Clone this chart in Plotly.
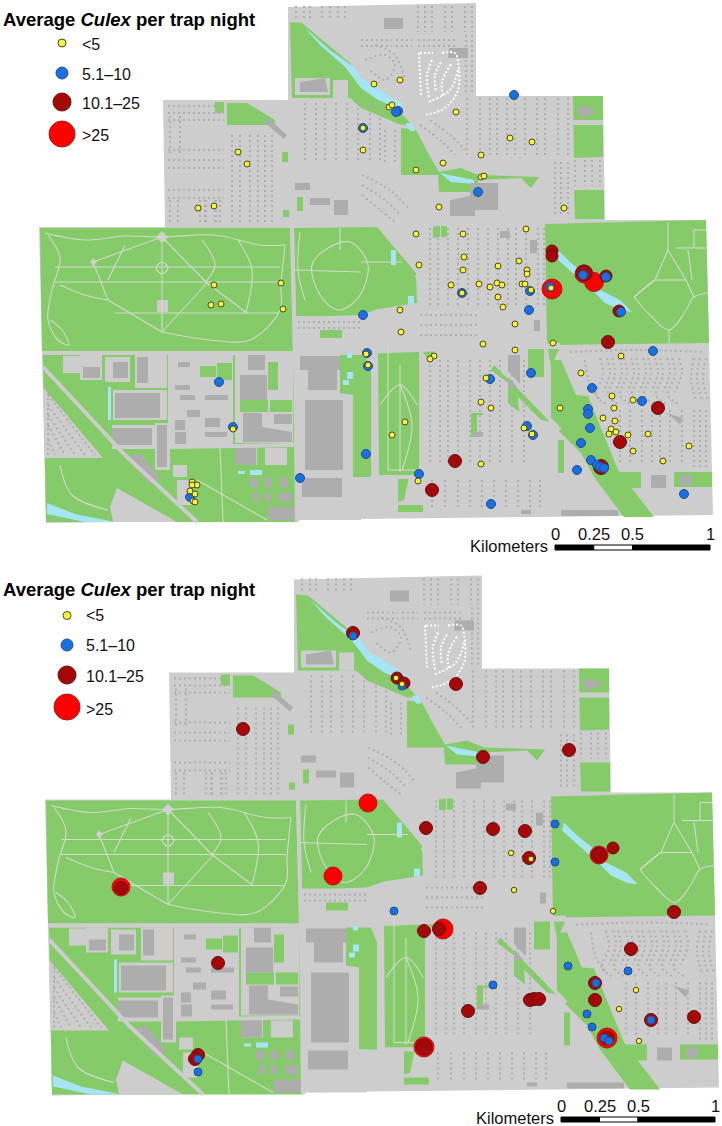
import plotly.graph_objects as go
from plotly.subplots import make_subplots

W, H = 722, 1126
SPLIT = 552
PANEL2_DX, PANEL2_DY = 6, 572.5

# ---------- legend ----------
legend_labels = ["<5", "5.1–10", "10.1–25", ">25"]
legend_sizes = [8, 12, 18, 26]
classes_color = ["#f6f23c", "#1b6fe0", "#a50808", "#fe0000"]
classes_edge = ["#4a4a18", "#1d4f8c", "#651010", "#b01818"]

# ---------- survey points, first map (class -> x, y) ----------
top_y_x = [238,247,198,214,374,400,389,392,456,510,532,481,443,416,481,484,439,564,526,416,463,419,464,519,498,463,527,527,363,363,
           214,281,211,221,283,233,192,197,192,190,195,193,195,
           451,479,490,497,502,522,525,462,531,551,498,503,400,515,401,483,553,515,621,434,430,366,368,581,486,612,633,481,491,560,614,603,615,405,524,611,609,616,532,628,648,392,689,633,663,481,418]
top_y_y = [152,164,208,206,84,80,107,105,112,138,142,155,163,170,177,176,207,208,229,234,234,265,257,261,266,270,270,274,128,150,
           285,283,305,304,309,429,482,485,485,491,494,501,502,
           285,284,287,283,285,284,284,293,290,288,297,307,310,324,332,344,343,350,356,356,359,354,365,373,378,396,400,402,408,408,408,418,421,422,428,429,434,432,434,435,434,435,446,451,461,464,481]
top_b_x = [398,396,478,514,363,219,233,300,190,363,462,530,529,653,367,368,531,490,592,642,588,588,527,590,533,581,366,591,597,600,604,577,419,684,491,621,550,583,606]
top_b_y = [111,112,192,95,128,382,427,478,497,315,293,291,310,351,353,366,373,379,388,401,409,414,426,428,435,443,454,460,465,467,468,470,474,494,504,312,287,275,277]
top_d_x = [552,552,584,606,619,608,658,620,455,432,601]
top_d_y = [251,256,273,276,311,342,408,442,461,490,467]
top_d_s = [12,12,16,12,12,13,13,13,13,13,15]
top_r_x = [594,552,584]
top_r_y = [282,289,274]
top_r_s = [19,20,18]

# ---------- survey points, second map ----------
bot_y_x = [396,402,511,531,514,553,636,619,639]
bot_y_y = [678,684,853,859,890,911,990,1009,1041]
bot_b_x = [353,402,555,198,198,555,394,568,628,493,596,587,592,651,604,609]
bot_b_y = [636,686,824,1059,1072,862,911,966,971,985,983,1014,1027,1020,1038,1041]
bot_d_x = [243,353,397,404,456,483,569,426,493,525,613,121,218,198,195,529,599,480,674,424,439,631,595,595,530,534,539,468,651,694,424,607]
bot_d_y = [729,633,678,683,684,757,750,828,829,831,848,888,963,1055,1059,858,855,888,912,931,929,949,983,1000,1000,999,999,1011,1020,1017,1047,1038]
bot_d_s = [13,13,12,12,13,13,13,13,13,13,12,13,13,13,13,13,15,13,13,13,13,13,13,13,13,13,13,13,13,13,16,14]
bot_r_x = [368,333,121,443,607,424,599]
bot_r_y = [803,876,887,929,1038,1047,855]
bot_r_s = [18,18,18,20,20,20,18]

# ---------- scale bars ----------
scale_km = [0, 0.25, 0.5, 1]
scale_labels = ["0", "0.25", "0.5", "1"]

# ---------- base map (first-map coordinates) ----------
base = [[(288,7),(476,3),(476,96),(603,96),(605,220),(706,220),(708,300),(712,477),(713,515),(361,519),(46,523),(39,227),(165,227),(163,100),(288,100)]]
green = [
 [(290,22),(302,23),(350,63),(361,88),(401,113),(411,124),(401,125),(361,108),(350,98),(292,98)],
 [(401,128),(416,130),(428,153),(439,172),(461,168),(478,175),(539,177),(531,188),(521,178),(478,180),(478,192),(439,192),(438,175),(401,175)],
 [(573,96),(603,96),(603,157),(574,158)], [(574,190),(604,190),(604,219),(575,219)],
 [(545,224),(706,220),(709,343),(547,345)],
 [(40,228),(290,228),(293,351),(42,351)],
 [(294,228),(377,227),(416,273),(417,303),(378,309),(361,315),(330,316),(296,316)],
 [(43,355),(293,355),(297,480),(296,522),(46,522)],
 [(340,355),(365,355),(371,370),(371,477),(353,477),(353,395),(340,393)],
 [(376,352),(419,352),(419,475),(378,475)],
 [(421,350),(436,350),(429,360)],
 [(494,365),(551,422),(541,420),(518,397),(519,412),(508,403),(508,383),(491,370)],
 [(471,413),(483,413),(483,437),(471,437)], [(528,349),(544,349),(544,377),(528,377)],
 [(548,349),(559,349),(551,367)],
 [(551,360),(561,360),(576,395),(588,396),(618,470),(654,517),(624,517),(594,477),(581,453),(551,423)],
 [(619,472),(641,472),(641,488),(619,488)], [(674,472),(712,472),(712,487),(674,487)],
 [(398,477),(409,477),(404,500),(398,502)], [(398,505),(423,505),(423,512),(398,512)], [(558,440),(564,440),(564,473),(558,473)],
 [(227,103),(247,103),(275,120),(275,125),(227,125)], [(215,102),(224,102),(224,113),(215,113)],
 [(282,152),(288,152),(288,162),(282,162)], [(297,197),(303,197),(303,211),(297,211)], [(283,210),(289,210),(289,217),(283,217)],
 [(433,227),(440,226),(440,237),(433,238)], [(441,226),(447,226),(447,237),(441,237)],
 [(280,352),(291,350),(291,354),(280,354)],
]
water = [
 [(304,27),(330,50),(355,68),(361,78),(375,86),(395,100),(405,104),(396,107),(378,100),(361,88),(345,67),(320,45)],
 [(406,123),(413,123),(415,131),(410,131)], [(440,173),(474,180),(474,184),(451,182)],
 [(558,250),(570,262),(590,278),(600,290),(620,300),(632,312),(620,310),(605,303),(595,293),(575,275),(556,258)],
 [(391,250),(396,250),(396,265),(391,265)], [(408,296),(414,296),(414,304),(408,304)],
 [(108,387),(111,387),(111,420),(108,420)], [(47,503),(75,514),(115,522),(85,522),(47,514)],
 [(347,372),(353,372),(353,379),(347,379)], [(343,380),(349,380),(349,385),(343,385)], [(347,353),(352,353),(352,358),(347,358)],
 [(238,471),(245,471),(245,474),(238,474)], [(250,470),(262,470),(262,475),(250,475)],
]
light = [
 [(295,78),(330,78),(330,95),(295,95)], [(333,80),(348,80),(348,98),(333,98)],
 [(157,300),(168,300),(168,312),(157,312)], [(572,120),(603,120),(603,125),(572,125)],
 [(156,237),(162,231),(168,237),(162,243)], [(90,262),(93,258),(97,262),(93,266)],
 [(63,356),(80,356),(80,373),(63,373)], [(80,355),(102,355),(102,380),(80,380)], [(105,357),(130,357),(130,382),(105,382)],
 [(135,355),(167,355),(167,388),(135,388)], [(168,355),(233,355),(233,447),(168,447)],
 [(113,390),(167,390),(167,420),(113,420)], [(112,425),(155,425),(155,449),(112,449)], [(155,423),(170,423),(170,470),(155,470)],
 [(43,387),(103,458),(45,458)], [(110,507),(117,488),(177,522),(113,522)], [(173,465),(187,465),(187,477),(173,477)],
 [(235,355),(293,355),(293,443),(235,443)], [(235,447),(257,447),(257,465),(235,465)], [(265,448),(287,448),(287,465),(265,465)],
 [(298,355),(340,355),(340,393),(298,393)], [(297,397),(353,397),(353,477),(297,477)], [(297,477),(361,477),(361,520),(297,520)],
 [(177,480),(192,480),(192,505),(177,505)], [(295,318),(361,318),(361,345),(295,345)], [(477,415),(483,415),(483,437),(477,437)],
]
light_green = [
 [(200,366),(216,366),(216,377),(200,377)], [(217,363),(232,363),(232,380),(217,380)],
 [(240,400),(268,400),(268,412),(240,412)], [(270,400),(292,400),(292,412),(270,412)],
 [(268,362),(278,362),(278,390),(268,390)], [(320,330),(342,330),(342,338),(320,338)],
]
dark = [
 [(300,82),(325,78),(328,92),(300,92)], [(384,18),(403,18),(403,29),(384,29)], [(264,122),(268,118),(287,135),(284,139)],
 [(83,367),(100,367),(100,378),(83,378)], [(113,362),(128,362),(128,378),(113,378)], [(137,357),(148,357),(148,383),(137,383)],
 [(115,393),(160,393),(160,418),(115,418)], [(112,428),(152,428),(152,445),(112,445)], [(157,425),(167,425),(167,467),(157,467)],
 [(127,457),(140,453),(160,478),(150,485)], [(240,375),(267,375),(267,400),(240,400)], [(248,355),(265,355),(265,370),(248,370)],
 [(243,413),(262,413),(262,427),(292,432),(292,442),(243,442)], [(274,414),(292,414),(292,424),(274,424)],
 [(235,447),(256,447),(256,465),(235,465)], [(300,356),(340,356),(340,370),(300,370)], [(308,370),(337,370),(337,390),(308,390)],
 [(305,400),(343,400),(343,470),(305,470)], [(302,478),(342,478),(342,497),(302,497)], [(268,507),(295,507),(295,520),(268,520)],
 [(178,362),(190,362),(190,367),(178,367)], [(175,385),(190,385),(190,390),(175,390)], [(187,410),(200,410),(200,417),(187,417)],
 [(175,420),(185,420),(185,430),(175,430)], [(175,432),(186,432),(186,444),(175,444)], [(205,432),(227,432),(227,437),(205,437)],
 [(205,418),(220,418),(220,427),(205,427)], [(180,395),(195,395),(195,400),(180,400)], [(205,395),(228,395),(228,400),(205,400)],
 [(250,478),(258,478),(258,488),(250,488)], [(265,478),(272,478),(272,488),(265,488)], [(280,478),(288,478),(288,488),(280,488)],
 [(253,493),(259,493),(259,502),(253,502)], [(265,493),(271,493),(271,502),(265,502)], [(279,493),(292,493),(292,502),(279,502)],
 [(448,55),(449,48),(468,48),(468,58),(448,58)], [(577,107),(590,107),(595,113),(580,118)], [(450,200),(475,195),(475,216),(450,216)],
 [(470,183),(498,183),(498,210),(470,210)], [(500,231),(510,231),(510,238),(500,238)], [(530,240),(537,240),(537,253),(530,253)],
 [(534,320),(540,320),(540,331),(534,331)], [(651,475),(666,475),(666,488),(651,488)],
 [(561,510),(618,510),(618,516),(561,516)], [(521,510),(531,510),(531,514),(521,514)], [(680,475),(692,475),(692,485),(680,485)], [(664,412),(683,418),(680,425),(670,415)],
 [(508,355),(520,355),(520,387),(508,387)], [(473,432),(483,432),(483,437),(473,437)], [(295,183),(310,183),(310,190),(295,190)],
 [(310,198),(330,198),(330,205),(310,205)], [(334,200),(348,200),(348,215),(334,215)],
]
road_thin = [
 [(55,267),(280,267)], [(55,282),(280,282)], [(115,313),(278,313)], [(162,237),(162,332)],
 [(162,237),(93,262),(108,300),(162,332)], [(162,237),(207,283),(247,313)], [(207,283),(162,332)],
 [(108,280),(125,245)], [(294,270),(361,272)], [(340,228),(340,250)], [(361,262),(402,262)],
 [(668,222),(668,250),(655,280),(634,297)], [(668,250),(686,280)], [(655,280),(686,280)],
 [(669,330),(669,343)], [(694,230),(706,230)], [(676,248),(706,248)], [(688,250),(692,280)], [(694,230),(694,248)],
 [(220,447),(223,522)], [(197,480),(267,520)], [(400,365),(400,472)], [(388,345),(388,470),(415,470)],
]
road_curve = [
 [(45,233),(85,240),(125,236),(162,237),(215,235),(260,245),(285,245)],
 [(156,268),(162,262),(168,268),(162,274),(156,268)],
 [(48,235),(60,258),(52,290),(48,320),(58,340),(69,345),(62,330),(50,320)], [(60,285),(85,295),(108,300)],
 [(162,332),(210,340),(250,340),(280,310),(281,285),(285,245)], [(202,240),(215,265),(205,283)], [(238,240),(252,270),(246,312)],
 [(328,248),(312,265),(320,295),(338,310),(358,298),(368,265),(350,242),(328,248)], [(300,232),(298,270),(305,300)],
 [(634,297),(650,315),(669,330),(685,312),(694,297),(708,293)], [(634,297),(648,285),(655,280)], [(686,280),(694,297)],
 [(380,405),(400,385),(417,405)], [(400,385),(412,425),(402,470)], [(60,465),(72,495),(108,510)],
]
road_wide = [
 [(42,353),(295,353)], [(43,367),(125,455),(197,522)], [(292,228),(295,352)], [(295,353),(297,522)], [(170,447),(296,445)],
 [(362,352),(560,345)], [(416,275),(560,430)], [(376,352),(377,475)], [(375,477),(410,477)],
]
road_white = [
 [(420,53),(433,53)], [(419,53),(421,95)], [(442,53),(455,53),(458,62),(458,90),(445,108),(425,115)],
 [(432,60),(427,75),(429,97)], [(441,62),(435,75),(436,92)], [(451,64),(442,82),(443,97)], [(458,70),(450,90),(428,102)],
]
house_rows = []
for x in [296,304,310,322,330,338,345]:
    house_rows.append([(x,6),(x,20)])
for x in [418,425,432,445,452,465,472]:
    house_rows.append([(x,6),(x,32)])
for x in [466,472]:
    house_rows.append([(x,35),(x,95)])
for y in [40,46]:
    house_rows.append([(361,y),(392,y)]); house_rows.append([(396,y),(412,y)]); house_rows.append([(418,y),(458,y)])
for x in [170,180]:
    house_rows.append([(x,116),(x,155)])
for y in [106,113,120,150,160,168,190,198]:
    house_rows.append([(168,y),(224,y)])
for x in [205,216,170,178,200,206,215,220]:
    house_rows.append([(x,200),(x,222)])
for x in [232,240,250,258,265,272]:
    house_rows.append([(x,135),(x,222)])
for x in [305,316,325,336,347,358,370,380]:
    house_rows.append([(x,103),(x,160)])
for x in [385,395]:
    house_rows.append([(x,130),(x,165)])
for x in [467,480,490,497,507,515,525,537,545,558,568]:
    house_rows.append([(x,98),(x,158)])
for x in [575,585,592,600]:
    house_rows.append([(x,160),(x,186)])
for x in [555,561,568]:
    house_rows.append([(x,162),(x,216)])
house_rows += [[(365,60),(385,55),(395,65),(385,80),(370,70)], [(375,45),(395,55),(405,80)], [(420,125),(440,140),(455,155)],
               [(430,120),(450,135),(465,150)], [(362,185),(385,200),(400,215)], [(362,195),(380,210),(395,222)], [(362,175),(390,190),(408,208)]]
for x in [430,438,448,458,468,478,488,498,508,516,526,538,544]:
    house_rows.append([(x,228),(x,305)])
for y in [315,325,335]:
    house_rows.append([(420,y),(480,y)])
for x in [430,440,448,458,470,480,490,500,512,524]:
    house_rows.append([(x,360),(x,465)])
for x in [432,445,458,470,482,494,506,518,530,540]:
    house_rows.append([(x,480),(x,508)])
for y in [322,328]:
    house_rows.append([(298,y),(360,y)])
house_rows += [[(570,352),(640,350),(705,352)], [(585,360),(590,385),(600,400)]]
for x in [600,612,624,636,648,660,672]:
    house_rows.append([(x,358),(x+3,375),(x-4,395),(x+8,405)])
    house_rows.append([(x+7,358),(x+10,372),(x+3,392)])
for x in [694,700,706]:
    house_rows.append([(x,358),(x-3,380),(x+2,400)]); house_rows.append([(x,410),(x,470)])
for x in [620,630,642,652,660,670,682]:
    house_rows.append([(x,410),(x,465)])
house_rows += [[(48,395),(95,455)], [(48,405),(85,455)], [(48,415),(75,455)], [(48,425),(65,455)], [(48,440),(55,455)], [(48,388),(48,455)]]


def join(polys, dx, dy):
    xs, ys = [], []
    for p in polys:
        xs += [q[0] + dx for q in p] + [None]
        ys += [q[1] + dy for q in p] + [None]
    return xs, ys


fig = make_subplots(rows=2, cols=1, vertical_spacing=0, row_heights=[SPLIT, H - SPLIT])


def add_basemap(row, dx, dy):
    for polys, col in [(base, "#cdcdcd"), (green, "#85cb6a"), (water, "#a6e6f4"), (light, "#cdcdcd"),
                       (light_green, "#85cb6a"), (dark, "#adadad")]:
        xs, ys = join(polys, dx, dy)
        fig.add_trace(go.Scatter(x=xs, y=ys, mode="lines", fill="toself", fillcolor=col,
                                 line=dict(width=0, color=col), hoverinfo="skip"), row=row, col=1)
    for polys, col, wd, dash, shape in [(road_wide, "#cdcdcd", 4, "solid", "linear"),
                                        (road_thin, "#d2dccb", 1.1, "solid", "linear"),
                                        (road_curve, "#d2dccb", 1.1, "solid", "spline"),
                                        (house_rows, "#aeaeae", 2, "2px,3px", "spline"),
                                        (road_white, "#ffffff", 2, "2px,2px", "spline")]:
        xs, ys = join(polys, dx, dy)
        fig.add_trace(go.Scatter(x=xs, y=ys, mode="lines", line=dict(width=wd, color=col, dash=dash, shape=shape),
                                 connectgaps=False, hoverinfo="skip"), row=row, col=1)


def add_class(row, x, y, k, size, name):
    fig.add_trace(go.Scatter(x=x, y=y, mode="markers", name=name, hoverinfo="skip",
                             marker=dict(size=size, color=classes_color[k], opacity=1,
                                         line=dict(width=1, color=classes_edge[k]))), row=row, col=1)


add_basemap(1, 0, 0)
add_basemap(2, PANEL2_DX, PANEL2_DY)

add_class(1, top_r_x, top_r_y, 3, top_r_s, ">25")
add_class(1, top_d_x, top_d_y, 2, top_d_s, "10.1–25")
add_class(1, top_b_x, top_b_y, 1, 9, "5.1–10")
add_class(1, top_y_x, top_y_y, 0, 6, "<5")

add_class(2, bot_r_x, bot_r_y, 3, bot_r_s, ">25")
add_class(2, bot_d_x, bot_d_y, 2, bot_d_s, "10.1–25")
add_class(2, bot_b_x, bot_b_y, 1, 8, "5.1–10")
add_class(2, bot_y_x, bot_y_y, 0, 5.5, "<5")

# legends
leg_top_y = [43, 73, 102, 134]
leg_bot_y = [615.5, 645, 675, 707]
for row, lx, lys, tx, tys, title_y, xr, yr in [
        (1, 62, leg_top_y, 80, [44, 74, 103, 135], 19, "x", "y"),
        (2, 67, leg_bot_y, 84, [615, 645, 676, 709], 589, "x2", "y2")]:
    for k in range(4):
        add_class(row, [lx], [lys[k]], k, legend_sizes[k], legend_labels[k])
        fig.add_annotation(x=tx, y=tys[k], xref=xr, yref=yr, text=legend_labels[k].replace("<", "&lt;"),
                           showarrow=False, xanchor="left", yanchor="middle",
                           font=dict(size=16, color="#111111", family="Liberation Sans"))
    fig.add_annotation(x=1, y=title_y, xref=xr, yref=yr, text="<b>Average <i>Culex</i> per trap night</b>",
                       showarrow=False, xanchor="left", yanchor="middle",
                       font=dict(size=18.5, color="#000000", family="Liberation Sans"))

# scale bars
shapes = []
for x0, y0, x1_km, xr, yr in [(555, 545, 155, "x", "y"), (561, 1117, 154, "x2", "y2")]:
    for a, b, c in [(0, 0.25, "#000000"), (0.25, 0.5, "#ffffff"), (0.5, 1, "#000000")]:
        shapes.append(dict(type="rect", xref=xr, yref=yr, x0=x0 + a * x1_km, x1=x0 + b * x1_km, y0=y0, y1=y0 + 5,
                           fillcolor=c, line=dict(color="#000000", width=1)))
    for km, lab in zip(scale_km, scale_labels):
        fig.add_annotation(x=x0 + km * x1_km, y=y0 - 11, xref=xr, yref=yr, text=lab, showarrow=False,
                           xanchor="center", yanchor="middle",
                           font=dict(size=16.5, color="#111111", family="Liberation Sans"))
    fig.add_annotation(x=x0 - 5, y=y0 + 1, xref=xr, yref=yr, text="Kilometers", showarrow=False,
                       xanchor="right", yanchor="middle",
                       font=dict(size=16.5, color="#111111", family="Liberation Sans"))

fig.update_layout(width=W, height=H, margin=dict(l=0, r=0, t=0, b=0), showlegend=False,
                  paper_bgcolor="white", plot_bgcolor="white", shapes=shapes)
axis = dict(visible=False, showgrid=False, zeroline=False, fixedrange=True)
fig.update_xaxes(range=[0, W], **axis)
fig.update_yaxes(range=[SPLIT, 0], row=1, col=1, **axis)
fig.update_yaxes(range=[H, SPLIT], row=2, col=1, **axis)
fig.write_html("out.html", config=dict(displayModeBar=False),
               post_script="document.body.style.margin='0';document.documentElement.style.overflow='hidden';")
